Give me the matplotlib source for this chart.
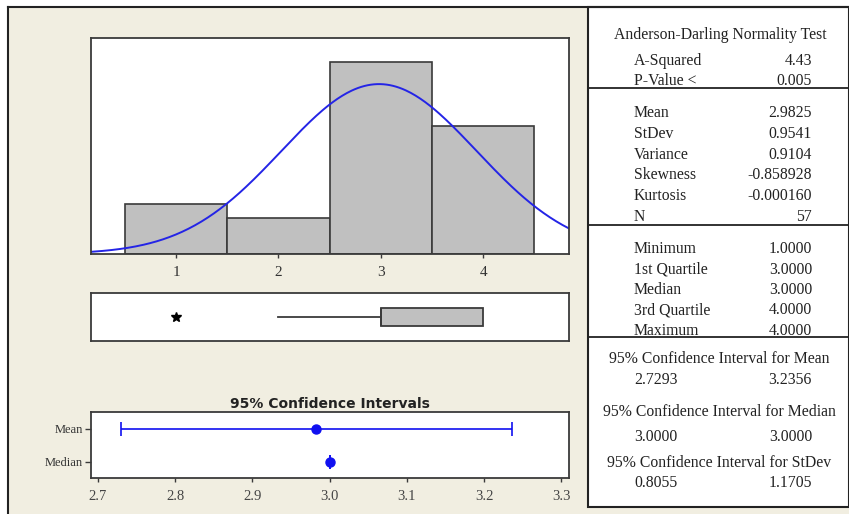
import numpy as np
import matplotlib
matplotlib.use('Agg')
import matplotlib.pyplot as plt
from matplotlib.patches import Rectangle
from matplotlib.lines import Line2D

bin_centers = [1, 2, 3, 4]
bin_counts = [7, 5, 27, 18]
mean_val = 2.9825
stdev_val = 0.9541
n_obs = 57

box_stats = dict(whislo=2.0, q1=3.0, med=3.0, q3=4.0, whishi=4.0, fliers=[1.0])

ci_labels = ['Mean', 'Median']
ci_centers = [2.9825, 3.0]
ci_low = [2.7293, 3.0]
ci_high = [3.2356, 3.0]
ci_ticks = [2.7, 2.8, 2.9, 3.0, 3.1, 3.2, 3.3]

ad_rows = [('A-Squared', '4.43'), ('P-Value <', '0.005')]
moment_rows = [('Mean', '2.9825'), ('StDev', '0.9541'), ('Variance', '0.9104'),
               ('Skewness', '-0.858928'), ('Kurtosis', '-0.000160'), ('N', '57')]
quantile_rows = [('Minimum', '1.0000'), ('1st Quartile', '3.0000'), ('Median', '3.0000'),
                 ('3rd Quartile', '4.0000'), ('Maximum', '4.0000')]
ci_rows = [('95% Confidence Interval for Mean', '2.7293', '3.2356'),
           ('95% Confidence Interval for Median', '3.0000', '3.0000'),
           ('95% Confidence Interval for StDev', '0.8055', '1.1705')]

W, H = 849, 514
BEIGE = '#f1eee1'
EDGE = '#3a3a3a'
SERIF = 'Liberation Serif'

fig = plt.figure(figsize=(W / 100, H / 100), dpi=100, facecolor='white')


def rect(l, t, r, b):
    return [l / W, 1 - b / H, (r - l) / W, (b - t) / H]


def fx(x):
    return x / W


def fy(y):
    return 1 - y / H


# background panels (kept behind the axes)
fig.patches.append(Rectangle((fx(8), 0), fx(849) - fx(8), fy(7), transform=fig.transFigure,
                             facecolor=BEIGE, edgecolor='none', zorder=-10))
fig.patches.append(Rectangle((fx(588), fy(507)), 1 - fx(588), fy(7) - fy(507), transform=fig.transFigure,
                             facecolor='white', edgecolor='#222222', lw=1.5, zorder=-5))
fig.lines.append(Line2D([fx(8), fx(8)], [0, fy(7)], transform=fig.transFigure, color='#222222', lw=1.5))
fig.lines.append(Line2D([fx(8), 1], [fy(7), fy(7)], transform=fig.transFigure, color='#222222', lw=1.5))


def style_axes(ax):
    for s in ax.spines.values():
        s.set_color(EDGE)
        s.set_linewidth(1.3)
    ax.set_facecolor('white')
    ax.set_zorder(2)


# --- histogram ---
ax_h = fig.add_axes(rect(91, 38, 569, 254))
style_axes(ax_h)
ax_h.bar(bin_centers, bin_counts, width=1.0, color='#c0c0c0', edgecolor=EDGE, linewidth=1.2)
xs = np.linspace(0.167, 4.84, 300)
pdf = n_obs * np.exp(-0.5 * ((xs - mean_val) / stdev_val) ** 2) / (stdev_val * np.sqrt(2 * np.pi))
ax_h.plot(xs, pdf, color='#2424e6', lw=1.4)
ax_h.set_xlim(0.167, 4.84)
ax_h.set_ylim(0, 30.3)
ax_h.set_yticks([])
ax_h.set_xticks(bin_centers)
ax_h.tick_params(axis='x', direction='out', length=3, width=1, color=EDGE, pad=6,
                 labelsize=11, labelcolor='#333333')
for lab in ax_h.get_xticklabels():
    lab.set_fontfamily(SERIF)

# --- boxplot ---
ax_b = fig.add_axes(rect(91, 293, 569, 341))
style_axes(ax_b)
ax_b.bxp([box_stats], vert=False, positions=[0], widths=1.0, patch_artist=True, showcaps=False,
         boxprops=dict(facecolor='#c0c0c0', edgecolor=EDGE, linewidth=1.3),
         whiskerprops=dict(color=EDGE, linewidth=1.3),
         medianprops=dict(color=EDGE, linewidth=1.3),
         flierprops=dict(marker='*', markersize=7, markerfacecolor='black', markeredgecolor='black'))
ax_b.set_xlim(0.167, 4.84)
ax_b.set_ylim(-1.33, 1.33)
ax_b.set_xticks([])
ax_b.set_yticks([])

# --- confidence intervals ---
ax_c = fig.add_axes(rect(91, 412, 569, 478))
style_axes(ax_c)
ci_y = np.arange(len(ci_labels)) + 1
for yy, c, lo, hi in zip(ci_y, ci_centers, ci_low, ci_high):
    ax_c.errorbar([c], [yy], xerr=[[c - lo], [hi - c]], fmt='o', color='#1010f0', ms=6.5,
                  elinewidth=1.2, capsize=5, capthick=1.2)
ax_c.set_xlim(2.691, 3.310)
ax_c.set_ylim(2.5, 0.5)
ax_c.set_yticks(ci_y)
ax_c.set_yticklabels(ci_labels)
ax_c.set_xticks(ci_ticks)
ax_c.set_xticklabels(['%.1f' % t for t in ci_ticks])
ax_c.tick_params(axis='x', direction='out', length=3, width=1, color=EDGE, pad=6,
                 labelsize=10.5, labelcolor='#444444')
ax_c.tick_params(axis='y', direction='out', length=4, width=1, color=EDGE, pad=2,
                 labelsize=9, labelcolor='#333333')
for lab in ax_c.get_xticklabels() + ax_c.get_yticklabels():
    lab.set_fontfamily(SERIF)
ax_c.set_title('95% Confidence Intervals', fontsize=10, fontweight='bold',
               family='DejaVu Sans', color='#222222', pad=3)

# --- statistics table ---
TXT = dict(transform=fig.transFigure, family=SERIF, fontsize=11.3, color='#222222', va='center')
lab_x, val_x, mid_x = fx(634), fx(812), fx(720)

fig.text(mid_x, fy(35), 'Anderson-Darling Normality Test', ha='center', **TXT)


def put_rows(rows, y0, step=20.6):
    for i, (lab, val) in enumerate(rows):
        fig.text(lab_x, fy(y0 + i * step), lab, ha='left', **TXT)
        fig.text(val_x, fy(y0 + i * step), val, ha='right', **TXT)


put_rows(ad_rows, 61, 20)
put_rows(moment_rows, 113, 20.8)
put_rows(quantile_rows, 249, 20.5)

for (title, lo, hi), ty, vy in zip(ci_rows, [359, 412, 463], [380, 437, 483]):
    fig.text(fx(719), fy(ty), title, ha='center', **TXT)
    fig.text(lab_x, fy(vy), lo, ha='left', **TXT)
    fig.text(val_x, fy(vy), hi, ha='right', **TXT)

for y in [88, 225, 337]:
    fig.lines.append(Line2D([fx(588), 1], [fy(y), fy(y)], transform=fig.transFigure,
                            color='#222222', lw=1.3))

fig.savefig('out.png', dpi=100, facecolor='white')
